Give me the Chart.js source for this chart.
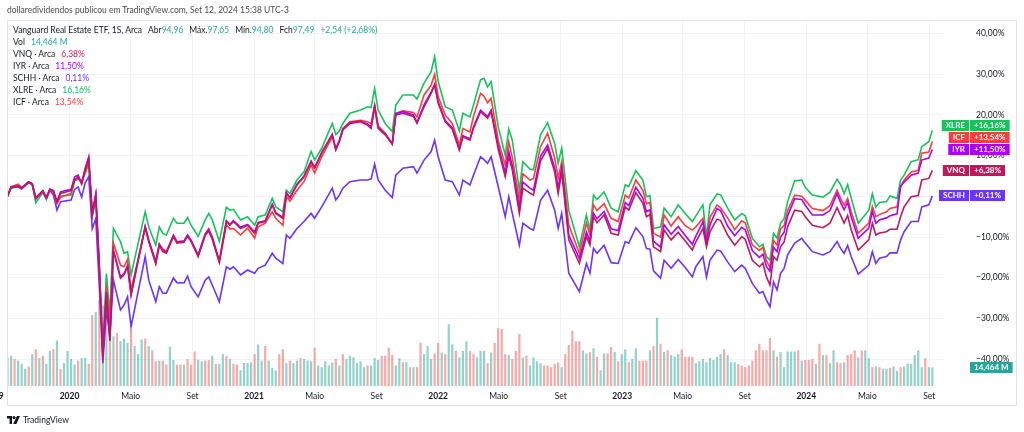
<!DOCTYPE html>
<html lang="pt-BR">
<head>
<meta charset="utf-8">
<title>VNQ x IYR, SCHH, XLRE, ICF</title>
<script src="https://cdn.jsdelivr.net/npm/chart.js@4.4.1/dist/chart.umd.min.js"></script>
<style>
  html, body { margin: 0; padding: 0; background: #ffffff; }
  #wrap { position: relative; width: 1024px; height: 432px; overflow: hidden; font-family: Lato, 'Open Sans', sans-serif; color: #131722; }
  #chart { position: absolute; left: 0; top: 0; }
  #frame { position: absolute; left: 7px; top: 20px; width: 1008px; height: 384px; border: 1px solid #e0e3eb; pointer-events: none; }
  .row { position: absolute; left: 13px; font-size: 8.5px; line-height: 12px; white-space: nowrap; }
  .g { margin-left: 6px; }
  .v { color: #26a69a; }
  #head { position: absolute; left: 7px; top: 4px; font-size: 8.5px; line-height: 12px; color: #4a4a4a; white-space: nowrap; }
  #cut { position: absolute; left: -16px; top: 390px; font-size: 8.5px; line-height: 12px; font-weight: bold; }
  #foot { position: absolute; left: 7px; top: 414px; font-size: 8.5px; line-height: 12px; display: flex; align-items: center; gap: 3px; }
</style>
</head>
<body>
<div id="wrap">
  <canvas id="chart" width="1024" height="432"></canvas>
  <div id="frame"></div>
  <div id="head">dollaredividendos publicou em TradingView.com, Set 12, 2024 15:38 UTC-3</div>
  <div class="row" style="top:24px">Vanguard Real Estate ETF, 1S, Arca<span class="g">Abr<span class="v">94,96</span></span><span class="g">Máx.<span class="v">97,65</span></span><span class="g">Mín.<span class="v">94,80</span></span><span class="g">Fch<span class="v">97,49</span></span><span class="g v">+2,54 (+2,68%)</span></div>
  <div class="row" id="volrow" style="top:36px"></div>
  <div id="legend"></div>
  <div id="cut">2019</div>
  <div id="foot">
    <svg width="13" height="8" viewBox="0 0 13 8"><path d="M0 0h5v8H2.6V2.4H0z" fill="#131722"/><circle cx="7" cy="1.6" r="1.6" fill="#131722"/><path d="M10 0h3l-3.6 8H6.2z" fill="#131722"/></svg>
    <span>TradingView</span>
  </div>
</div>
<script>
// weekly bars, week 0 = first bar (start of Sep 2019)
const weeks = [0,1,3,4,6,7,8,10,11,12,
  13,14,15,18,19,20,21,22,23,24,
  25,26,27,28,29,30,32,33,34,35,
  39,40,42,43,44,45,47,48,50,51,
  52,54,56,57,58,60,62,63,64,66,
  68,70,71,73,75,76,78,79,80,82,
  84,86,87,89,92,93,94,95,97,100,
  102,103,104,105,107,109,110,112,115,116,
  118,120,121,122,124,126,128,129,131,132,
  134,135,136,137,139,141,142,143,145,146,
  148,149,151,153,155,156,157,159,162,164,
  165,166,167,169,171,173,175,176,178,180,
  181,182,183,185,186,188,190,192,194,195,
  197,198,199,201,202,204,206,208,209,211,
  213,214,215,216,217,218,219,220,221,223,
  225,226,228,231,233,235,236,237,238,239,
  241,244,245,246,247,249,250,252,253,254,
  256,258,259,261,262];

// % change since first bar
const vnq = [0,2.2,2.5,1.9,3.5,3.0,-0.5,1.3,-0.3,1.7,
  1.3,-1.5,0.7,1.4,4.0,4.8,3.0,6.6,9.3,-4.5,
  0.3,-18,-39.5,-24,-35.5,-13.4,-20.1,-19.3,-17.3,-24.3,
  -7.5,-11.1,-16.6,-12.0,-13.6,-14.0,-9.9,-11.5,-11.3,-9.8,
  -11.1,-14.8,-9.5,-8.3,-10.3,-16.1,-6.2,-7.1,-6.2,-7.9,
  -7.1,-9.1,-6.6,-6.2,-2.1,-4.2,-5.4,0.7,-0.5,2.8,
  4.8,8.5,6.9,10.6,15.1,11.4,13.4,16.3,17.9,18.3,
  17.5,16.7,22.0,16.7,15.1,12.8,20.0,20.4,19.6,17.9,
  22.0,25.3,27.3,22.9,18.3,16.5,11.4,14.6,13.8,16.7,
  20.8,20.0,19.2,20.8,11.6,4.8,9.7,6.5,-4.2,2.0,
  0.8,0.3,8.7,11.8,6.0,0.7,6.0,-10.7,-16.5,-9.9,
  -12.0,-5.0,-6.5,-4.6,-9.1,-9.5,-2.6,-3.4,0.9,-1.7,
  -5.0,-4.5,-12.4,-13.6,-8.3,-10.7,-8.8,-11.0,-13.2,-11.2,
  -7.9,-12.4,-8.7,-5.6,-5.9,-9.5,-12.0,-9.9,-10.6,-15.7,
  -17.3,-16.4,-19.8,-21.8,-14.8,-15.7,-12.4,-11.2,-7.5,-3.4,
  -3.7,-5.0,-7.1,-7.7,-6.6,-2.8,-4.7,-6.6,-4.7,-8.2,
  -13.2,-10.7,-6.6,-9.5,-9.0,-8.7,-8.1,-8.1,-5.0,-2.6,
  -0.1,0.2,4.0,4.4,6.38];

const iyr = [0,2.3,2.6,2.0,3.6,3.1,-0.3,1.4,-0.2,1.8,
  1.4,-1.2,1.1,1.7,4.8,5.2,3.2,6.9,9.7,-4.0,
  0.6,-17,-39,-23.5,-35,-13.2,-19.8,-19.0,-17.0,-24.0,
  -7.3,-10.8,-16.3,-11.8,-13.3,-13.8,-9.6,-11.2,-11.0,-9.5,
  -10.8,-14.4,-9.2,-8.0,-10.0,-15.8,-6.0,-6.9,-6.0,-7.6,
  -6.9,-8.8,-6.4,-6.0,-1.9,-4.0,-5.2,0.9,-0.3,3.0,
  5.0,8.7,7.1,10.8,15.3,11.6,13.6,16.5,18.1,18.5,
  17.8,17.0,22.2,16.9,15.3,13.0,20.3,20.8,20.0,18.2,
  22.5,25.6,27.5,23.2,18.6,16.8,11.6,14.9,14.1,17.0,
  21.2,20.4,19.6,21.2,12.5,5.8,11.0,7.5,-3.0,3.5,
  2.0,1.5,9.8,12.6,7.0,2.0,7.0,-9.5,-15.3,-8.8,
  -11.0,-4.2,-5.5,-3.7,-8.0,-8.4,-1.5,-2.3,2.2,-0.5,
  -3.8,-3.3,-11.0,-12.5,-7.0,-9.3,-7.4,-9.6,-11.8,-9.8,
  -6.3,-11.2,-7.0,-3.0,-3.5,-7.3,-9.7,-7.6,-8.2,-13.3,
  -15.0,-14.2,-17.3,-18.4,-12.5,-13.6,-10.0,-8.8,-4.8,-0.6,
  -0.8,-2.2,-4.6,-4.6,-3.5,0.7,-1.5,-3.3,-1.5,-5.0,
  -10.3,-7.8,-3.7,-6.6,-5.8,-5.3,-4.8,-4.3,2.5,3.5,
  5.2,5.7,8.9,9.4,11.5];

const icf = [0,2.4,3.0,2.2,3.6,3.1,-0.6,1.2,-0.4,1.6,
  1.2,-1.8,-0.2,0.7,4.0,4.5,3.4,6.0,8.5,-4.6,
  0.0,-17,-38,-22,-31,-11.4,-16.9,-17.3,-15.5,-23.0,
  -7.8,-10.8,-16.0,-11.7,-13.0,-13.5,-9.6,-11.2,-11.0,-9.5,
  -10.9,-14.6,-9.6,-8.6,-10.6,-16.3,-7.0,-8.0,-7.9,-9.5,
  -7.8,-10.3,-7.5,-6.6,-3.8,-5.4,-7.1,-0.1,-1.2,1.5,
  3.6,7.7,5.7,9.7,14.6,11.6,13.8,16.7,18.3,18.7,
  18.3,17.8,22.4,17.3,15.5,12.8,20.4,21.0,20.6,19.5,
  24.9,27.3,30.0,24.5,20.0,17.9,12.6,16.7,15.8,19.6,
  25.3,24.6,23.0,24.1,13.8,7.7,13.4,9.5,-0.9,5.5,
  4.0,4.4,12.2,15.5,9.5,4.5,8.5,-7.0,-14.0,-6.6,
  -9.5,-2.1,-3.5,-1.8,-5.4,-6.2,0.3,-0.4,4.0,1.5,
  -1.8,-1.5,-9.1,-10.0,-4.6,-7.3,-5.0,-7.2,-8.3,-7.5,
  -5.4,-11.0,-5.2,-2.1,-2.8,-5.3,-8.2,-6.0,-6.5,-11.9,
  -13.3,-12.5,-15.8,-17.5,-10.8,-12.0,-8.0,-7.2,-3.5,0.3,
  0.0,-1.0,-3.0,-3.5,-2.3,1.5,-0.5,-2.2,-0.5,-3.7,
  -9.1,-6.6,-2.5,-5.0,-4.5,-3.8,-3.0,-2.6,2.4,4.0,
  6.0,6.4,10.6,10.9,13.54];

const xlre = [0,2.0,2.3,1.8,3.4,2.8,-1.6,0.9,-0.8,1.4,
  1.0,-1.6,0.0,0.3,3.8,4.2,3.8,5.6,7.9,-5.0,
  -1.0,-18,-38,-19,-29,-7.9,-11.1,-14.0,-13.6,-19.3,
  -3.8,-7.5,-12.0,-7.5,-9.1,-9.5,-5.4,-6.6,-6.6,-5.2,
  -7.1,-9.8,-5.8,-4.2,-5.8,-11.1,-2.7,-3.4,-3.2,-5.8,
  -5.0,-7.1,-5.0,-4.6,-0.5,-2.6,-3.8,1.5,0.7,4.0,
  6.0,11.0,8.9,11.8,17.9,15.2,16.0,17.9,20.4,21.2,
  22.0,21.8,26.5,21.2,17.9,15.9,22.4,24.9,24.9,23.9,
  27.8,30.6,34.3,28.2,22.0,21.2,16.0,20.4,19.5,22.4,
  28.6,29.0,26.9,28.2,17.1,10.1,16.5,13.8,1.5,8.5,
  6.7,6.5,15.1,18.1,13.0,8.1,11.8,-3.4,-12.4,-4.6,
  -8.3,0.3,-0.8,1.1,-2.9,-3.8,2.8,2.4,6.3,4.0,
  -0.1,0.2,-7.9,-7.5,-2.9,-5.0,-2.1,-4.2,-6.2,-4.8,
  -2.1,-9.9,-2.1,0.6,0.4,-2.9,-5.8,-4.2,-4.8,-10.3,
  -12.4,-11.8,-14.8,-15.7,-9.1,-10.3,-6.6,-5.5,-1.3,3.8,
  4.0,2.2,0.3,-0.2,1.0,4.2,2.9,0.7,2.9,-0.4,
  -6.6,-3.4,0.6,-2.6,-1.5,-1.3,0.1,-0.5,4.0,5.2,
  8.5,9.0,12.2,13.4,16.16];

const schh = [0,2.1,2.4,1.9,3.4,2.9,-0.7,1.2,-0.5,1.5,
  0.3,-3.4,-1.3,-0.9,1.7,2.3,-0.2,3.3,4.8,-8.0,
  -5.5,-22,-41,-28,-34,-20.6,-27.9,-26.7,-24.7,-32.0,
  -14.8,-20.6,-25.9,-22.2,-23.8,-23.8,-20.1,-21.2,-21.3,-19.6,
  -22.2,-24.7,-20.6,-19.8,-21.8,-25.9,-17.3,-17.9,-17.3,-19.3,
  -18.1,-18.9,-17.7,-16.9,-14.0,-15.2,-16.5,-9.5,-10.3,-7.9,
  -6.2,-4.2,-5.4,-2.6,2.0,-0.9,0.3,2.0,3.6,4.0,
  4.0,4.3,7.9,4.0,1.5,-0.3,5.2,6.9,7.3,5.7,
  8.9,11.0,13.8,9.7,4.0,3.6,0.3,4.0,2.8,5.2,
  9.7,9.0,8.1,9.7,2.4,-5.0,-0.1,-4.2,-12.0,-6.6,
  -7.9,-8.3,-1.0,1.5,-3.4,-7.9,-4.2,-18.9,-23.4,-16.5,
  -18.9,-12.8,-14.0,-12.0,-16.3,-16.5,-11.1,-11.5,-7.7,-9.9,
  -12.8,-13.0,-18.3,-20.1,-15.7,-17.7,-15.5,-17.5,-19.8,-17.3,
  -14.8,-19.8,-15.7,-13.2,-13.4,-16.1,-18.5,-16.9,-17.7,-21.4,
  -23.8,-23.4,-25.5,-27.1,-21.0,-23.0,-18.9,-17.7,-14.4,-11.5,
  -10.3,-11.5,-13.6,-14.4,-13.6,-11.1,-12.8,-14.0,-12.1,-14.8,
  -19.1,-16.9,-13.6,-16.5,-15.2,-14.8,-13.9,-13.9,-10.7,-8.7,
  -6.2,-6.2,-2.6,-2.1,0.11];

// VNQ weekly volume, millions, one per week from week 0
const volume = [22.3,23.6,21.1,19.8,17.3,13.4,15.2,24.9,28.7,21.8,
  23.6,17.3,27.4,28.7,35.5,13.4,17.8,27.4,21.1,16.7,
  19.8,21.8,21.8,17.3,55.3,57.8,66.7,63,60,64,
  38.8,41.3,35,37,33.7,43.9,31.2,24.9,36.3,37,
  31.2,27.9,19.3,19.8,19.8,16.7,30.7,20.3,16.7,16.7,
  16.7,21.1,16.7,26.9,20.5,19.3,19.8,20.3,23.6,17.3,
  17.3,24.9,23.6,21.1,17.3,16.7,12.2,18,18,
  18.5,24.9,32.5,19.8,31.2,19.8,14.2,12.2,24.9,28.7,
  17.8,19.8,17.8,19.8,21.8,21.1,19.8,19.3,29.9,16,
  14.7,19.3,16,18.5,21.1,16,24.9,21.1,23.6,22.3,
  17.8,19.3,14.7,16,16,21.8,20.3,23.6,23.6,29.9,
  24.3,16,21.8,18.5,18.5,14.7,14.7,14.7,33.7,24.9,
  31.2,21.1,25.4,33.7,26.1,24.9,48.2,32.5,27.4,22.3,
  27.4,35,27.4,24.9,22.3,27.4,27.4,17.8,26.1,33.7,
  45.2,44.6,24.9,24.3,21.1,27.4,40.6,22.3,23.6,16,
  22.3,19.3,17.8,16,16,
  14.7,17.3,18.5,14.7,24.9,32,43.1,35,35,27.9,
  25.4,26.4,29.4,22.8,12.2,25.4,25.4,30.4,26.6,19.3,
  24.9,28.7,18.5,21.1,29.4,19.8,19.8,19.8,27.9,31.2,
  53.3,33,26.6,27.9,24.1,22.8,24.9,28.7,22.8,22.8,
  22.8,17.8,19.3,21.1,18.5,21.8,20.3,22.8,24.9,28.7,
  24.1,18.5,18.5,17.3,16,14.7,16,19.8,27.9,33,
  27.9,27.9,37.5,27.9,22.8,26.6,14.7,27,27,27,
  27.9,19.8,20.3,20.3,21.1,17.3,33,24.1,24.1,17.8,
  27.9,18.5,17.8,18.5,24.1,24.9,27.9,22.3,27.9,27.9,
  21.8,14.7,15.2,14.7,13.5,13.5,14.2,15.2,11.8,14.7,
  15.2,17.3,17.3,24.1,27.9,14.7,21.8,14.7,14.464];

// 1 = week closed up, 0 = down
const volumeUp = [0,1,0,1,1,1,0,1,0,1,
  0,1,1,0,1,0,1,1,1,1,
  0,1,1,0,0,1,0,1,1,0,
  1,0,1,1,1,0,1,1,1,0,
  1,0,0,1,0,0,1,1,0,0,
  1,0,0,0,1,1,0,0,1,0,
  1,1,0,1,0,0,1,1,1,
  1,0,1,1,0,1,1,1,0,0,
  1,0,1,1,0,1,1,1,0,1,
  1,1,1,1,0,1,0,1,1,1,
  1,1,1,0,1,1,1,0,0,0,
  0,1,1,0,1,0,1,0,0,1,
  1,1,0,0,1,0,1,1,0,1,
  1,1,0,0,1,1,1,0,1,0,
  0,0,0,1,0,0,0,1,0,1,
  1,1,1,0,0,
  0,0,0,1,0,0,0,0,0,1,
  1,0,1,0,1,1,0,0,1,0,
  1,1,0,1,1,0,0,0,1,0,
  1,0,1,0,1,1,1,0,0,0,
  0,1,1,1,1,1,1,1,1,0,
  1,1,1,0,0,0,0,0,0,0,
  0,0,0,1,0,1,1,1,1,1,
  0,1,0,0,0,1,0,1,0,1,
  1,0,0,1,0,0,0,1,0,1,
  1,0,1,0,1,1,0,1,1,0,
  1,1,1,1,1,1,0,1,1];

const tickDates = ['2020-01-01','2020-05-01','2020-09-01','2021-01-01','2021-05-01','2021-09-01',
  '2022-01-01','2022-05-01','2022-09-01','2023-01-01','2023-05-01','2023-09-01',
  '2024-01-01','2024-05-01','2024-09-01'];
const tickLabels = ['2020','Maio','Set','2021','Maio','Set','2022','Maio','Set',
  '2023','Maio','Set','2024','Maio','Set'];
const yTicks = [40, 30, 20, 10, 0, -10, -20, -30, -40];

const firstBar = Date.UTC(2019, 7, 31);
const weekOf = s => (Date.parse(s) - firstBar) / 6048e5;

const series = [
  { name: 'VNQ', values: vnq, color: '#c2185b' },
  { name: 'IYR', values: iyr, color: '#aa00ff' },
  { name: 'ICF', values: icf, color: '#ff3b3b' },
  { name: 'SCHH', values: schh, color: '#6b33ff' },
  { name: 'XLRE', values: xlre, color: '#17c25a' }
];
const legendOrder = ['VNQ', 'IYR', 'SCHH', 'XLRE', 'ICF'];

const fmtPct = v => (v < 0 ? '\u2212' : '') + Math.abs(v).toFixed(2).replace('.', ',') + '%';
const signPct = v => (v >= 0 ? '+' : '\u2212') + Math.abs(v).toFixed(2).replace('.', ',') + '%';
const lastVol = volume[volume.length - 1];
const volText = lastVol.toFixed(3).replace('.', ',') + ' M';

// legend rows
document.getElementById('volrow').innerHTML = 'Vol<span class="g v">' + volText + '</span>';
const legend = document.getElementById('legend');
legendOrder.forEach((n, k) => {
  const s = series.find(d => d.name === n);
  const row = document.createElement('div');
  row.className = 'row';
  row.style.top = (48 + k * 12) + 'px';
  row.innerHTML = n + ' \u00b7 Arca<span class="g" style="color:' + s.color + '">' +
    fmtPct(s.values[s.values.length - 1]) + '</span>';
  legend.appendChild(row);
});

// price-scale labels for last values
const badgePlugin = {
  id: 'badges',
  afterDraw(chart) {
    const ctx = chart.ctx;
    const ys = chart.scales.y;
    const items = series.map(s => {
      const last = s.values[s.values.length - 1];
      return { name: s.name, color: s.color, text: signPct(last), py: ys.getPixelForValue(last) };
    });
    items.sort((a, b) => b.py - a.py);
    for (let k = 1; k < items.length; k++) {
      if (items[k].py > items[k - 1].py - 12) items[k].py = items[k - 1].py - 12;
    }
    ctx.save();
    ctx.font = 'bold 8px Lato, sans-serif';
    ctx.textBaseline = 'middle';
    ctx.textAlign = 'center';
    items.forEach(it => {
      const top = Math.round(it.py - 5.5);
      const nw = ctx.measureText(it.name).width + 8;
      const vw = ctx.measureText(it.text).width + 8;
      ctx.fillStyle = it.color;
      ctx.fillRect(969 - nw, top, nw, 11);
      ctx.fillRect(970, top, vw, 11);
      ctx.fillStyle = '#ffffff';
      ctx.fillText(it.name, 969 - nw / 2, top + 5.8);
      ctx.fillText(it.text, 970 + vw / 2, top + 5.8);
    });
    // volume label
    const vy = Math.round(chart.scales.yv.getPixelForValue(lastVol) - 5.5);
    const w = ctx.measureText(volText).width + 8;
    ctx.fillStyle = '#26a69a';
    ctx.fillRect(970, vy, w, 11);
    ctx.fillStyle = '#ffffff';
    ctx.fillText(volText, 970 + w / 2, vy + 5.8);
    ctx.restore();
  }
};

const noPad = s => { s.paddingTop = 0; s.paddingBottom = 0; s.paddingLeft = 0; s.paddingRight = 0; };

const lineSet = s => ({
  type: 'line',
  label: s.name,
  data: weeks.map((w, k) => ({ x: w, y: s.values[k] })),
  borderColor: s.color,
  borderWidth: 1.6,
  pointRadius: 0,
  tension: 0,
  yAxisID: 'y'
});

const ctx = document.getElementById('chart').getContext('2d');
new Chart(ctx, {
  type: 'line',
  data: {
    datasets: [
      ...series.map(lineSet),
      {
        type: 'bar',
        label: 'Vol',
        data: volume.map((v, i) => ({ x: i, y: v })),
        backgroundColor: volumeUp.map(u => u ? 'rgba(38,166,154,0.5)' : 'rgba(239,83,80,0.5)'),
        categoryPercentage: 1,
        barPercentage: 0.62,
        yAxisID: 'yv'
      }
    ]
  },
  options: {
    responsive: false,
    animation: false,
    layout: { autoPadding: false, padding: { left: 7, top: 21, right: 0, bottom: 26 } },
    plugins: { legend: { display: false }, tooltip: { enabled: false } },
    scales: {
      x: {
        type: 'linear',
        offset: false,   // bar defaults would add edge space otherwise
        min: -0.15,
        max: 265.3,
        grid: { color: '#f0f3fa', drawTicks: false, offset: false },
        border: { display: false },
        afterBuildTicks: s => { s.ticks = tickDates.map(d => ({ value: weekOf(d) })); },
        afterFit: s => { s.height = 20; noPad(s); },
        ticks: {
          padding: 5,
          color: '#131722',
          maxRotation: 0,
          autoSkip: false,
          font: c => ({ family: 'Lato', size: 8.5, weight: /^\d/.test(tickLabels[c.index]) ? 'bold' : 'normal' }),
          callback: (v, i) => tickLabels[i]
        }
      },
      y: {
        position: 'right',
        min: -46.6,
        max: 43.07,
        grid: { color: '#f0f3fa', drawTicks: false },
        border: { display: false },
        afterBuildTicks: s => { s.ticks = yTicks.map(v => ({ value: v })); },
        afterFit: s => { s.width = 80; noPad(s); },
        ticks: {
          padding: 32,
          crossAlign: 'near',
          color: '#131722',
          font: { family: 'Lato', size: 8.5 },
          callback: v => fmtPct(v)
        }
      },
      yv: { display: false, min: 0, max: 285 }
    }
  },
  plugins: [badgePlugin]
});
</script>
</body>
</html>
